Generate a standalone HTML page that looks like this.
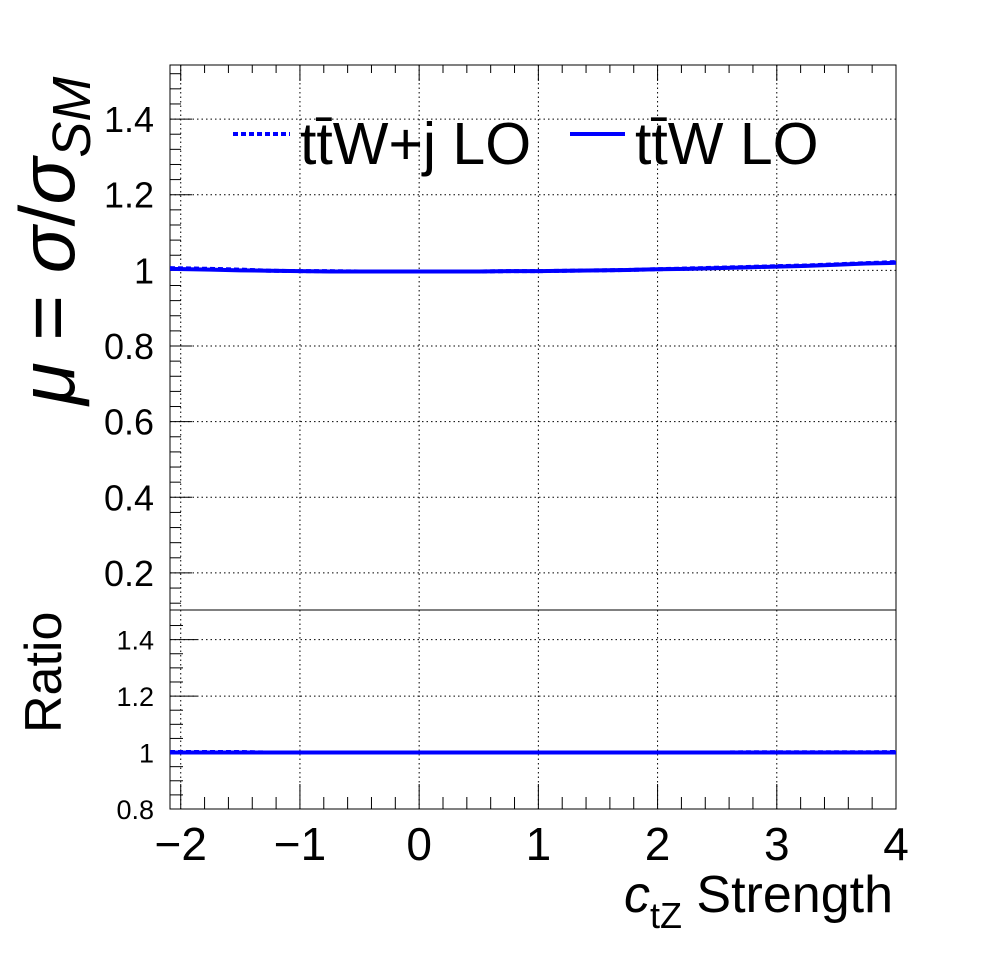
<!DOCTYPE html>
<html><head><meta charset="utf-8"><style>
body{margin:0;background:#fff}
svg{display:block;font-family:"Liberation Sans",sans-serif}
</style></head><body>
<svg id="c" width="996" height="972" viewBox="0 0 996 972">
<g id="grid"></g>
<g id="axes"></g>
<g id="series"></g>
<g>
 <line x1="233" y1="134" x2="290" y2="134" stroke="#00f" stroke-width="4" stroke-dasharray="5,3"/>
 <text x="300" y="164" font-size="59">tt̄W+j LO</text>
 <line x1="570" y1="134" x2="625" y2="134" stroke="#00f" stroke-width="4"/>
 <text x="635" y="164" font-size="59">tt̄W LO</text>
</g>
<text transform="translate(74,405) rotate(-90)" font-size="78"><tspan font-style="italic">μ</tspan> = <tspan font-style="italic">σ</tspan>/<tspan font-style="italic">σ</tspan><tspan font-size="54" dy="16" font-style="italic">SM</tspan></text>
<text transform="translate(61,733) rotate(-90)" font-size="52">Ratio</text>
<text x="893" y="912" font-size="52" text-anchor="end"><tspan font-style="italic">c</tspan><tspan font-size="36" dy="16">tZ</tspan><tspan dy="-16"> Strength</tspan></text>
</svg>
<script>
const xVals=[-2.09,-1.75,-1.5,-1.25,-1,-0.75,-0.5,-0.25,0,0.25,0.5,0.75,1,1.25,1.5,1.75,2,2.25,2.5,2.75,3,3.25,3.5,3.75,4];
const ttwj=[1.006,1.004,1.002,0.999,0.998,0.998,0.997,0.997,0.997,0.997,0.997,0.998,0.998,0.999,1.0,1.001,1.003,1.005,1.007,1.009,1.011,1.013,1.016,1.019,1.022];
const ttw=[1.004,1.002,1.0,0.999,0.998,0.997,0.997,0.997,0.997,0.997,0.997,0.998,0.998,0.999,1.0,1.001,1.003,1.004,1.006,1.008,1.01,1.012,1.015,1.018,1.02];
const ratioVals=[1.002,1.002,1.002,1.0,1.0,1.0,1.0,1.0,1.0,1.0,1.0,1.0,1.0,1.0,1.0,1.0,1.0,1.0,1.0,1.001,1.001,1.001,1.001,1.001,1.002];
const xTicks=[-2,-1,0,1,2,3,4];
const xTickLabels=["\u22122","\u22121","0","1","2","3","4"];
const yTicks=[0.2,0.4,0.6,0.8,1,1.2,1.4];
const yTickLabels=["0.2","0.4","0.6","0.8","1","1.2","1.4"];
const rTicks=[0.8,1,1.2,1.4];
const rTickLabels=["0.8","1","1.2","1.4"];
const NS="http://www.w3.org/2000/svg";
const L=170,R=896,T=65,M=610,B=809;
const X0=-2.09,X1=4,Y0=0.102,Y1=1.543,R0=0.8,R1=1.505;
const sx=v=>L+(v-X0)/(X1-X0)*(R-L);
const sy=v=>M-(v-Y0)/(Y1-Y0)*(M-T);
const sr=v=>B-(v-R0)/(R1-R0)*(B-M);
function el(p,tag,a){const e=document.createElementNS(NS,tag);for(const k in a)e.setAttribute(k,a[k]);p.appendChild(e);return e;}
const g=document.getElementById('grid'),ax=document.getElementById('axes'),se=document.getElementById('series');
const gd={stroke:"#000","stroke-width":1,"stroke-dasharray":"1.5,3"};
xTicks.forEach(v=>{const x=sx(v);
 let a=el(g,'line',Object.assign({x1:x,x2:x,y1:T,y2:M},gd));
 let b=el(g,'line',Object.assign({x1:x,x2:x,y1:M,y2:B},gd));});
yTicks.forEach(v=>{const y=sy(v);let a=el(g,'line',Object.assign({x1:L,x2:R,y1:y,y2:y},gd));});
rTicks.forEach(v=>{const y=sr(v);let a=el(g,'line',Object.assign({x1:L,x2:R,y1:y,y2:y},gd));});
let f1=el(ax,'rect',{x:L,y:T,width:R-L,height:M-T,fill:"none",stroke:"#000","stroke-width":1});

let f2=el(ax,'rect',{x:L,y:M,width:R-L,height:B-M,fill:"none",stroke:"#000","stroke-width":1});

for(let v=-2;v<=4.001;v+=0.2){const x=sx(v);const maj=Math.abs(v-Math.round(v))<0.01;
 el(ax,'line',{x1:x,x2:x,y1:B,y2:B-(maj?25:12),stroke:"#000"});
 el(ax,'line',{x1:x,x2:x,y1:T,y2:T+(maj?16:8),stroke:"#000"});}
xTicks.forEach((v,i)=>{const t=el(ax,'text',{x:sx(v),y:860,"font-size":46,"text-anchor":"middle"});t.textContent=xTickLabels[i];
 });
for(let v=0.12;v<=1.54;v+=0.04){const y=sy(v);const maj=Math.abs(v*5-Math.round(v*5))<0.01;
 el(ax,'line',{x1:L,x2:L+(maj?22:11),y1:y,y2:y,stroke:"#000"});}
yTicks.forEach((v,i)=>{const t=el(ax,'text',{x:154,y:sy(v)+13,"font-size":36,"text-anchor":"end"});t.textContent=yTickLabels[i];
 });
for(let v=0.8;v<=1.5;v+=0.05){const y=sr(v);const maj=Math.abs(v*5-Math.round(v*5))<0.01;
 el(ax,'line',{x1:L,x2:L+(maj?27:13),y1:y,y2:y,stroke:"#000"});}
rTicks.forEach((v,i)=>{const t=el(ax,'text',{x:154,y:sr(v)+10,"font-size":27,"text-anchor":"end"});t.textContent=rTickLabels[i];
 });
function path(vals,f,dash,name){let d="";vals.forEach((v,i)=>{d+=(i?"L":"M")+sx(xVals[i])+","+f(v);});
 const p=el(se,'path',{d:d,fill:"none",stroke:"#00f","stroke-width":4});if(dash)p.setAttribute('stroke-dasharray','5,3');
 }
path(ttw,sy,false,'ttw-lo-line');
path(ttwj,sy,true,'ttwj-lo-line');
path(ratioVals.map(()=>1),sr,false,'ratio-ref-line');
path(ratioVals,sr,true,'ratio-line');
</script>
</body></html>
